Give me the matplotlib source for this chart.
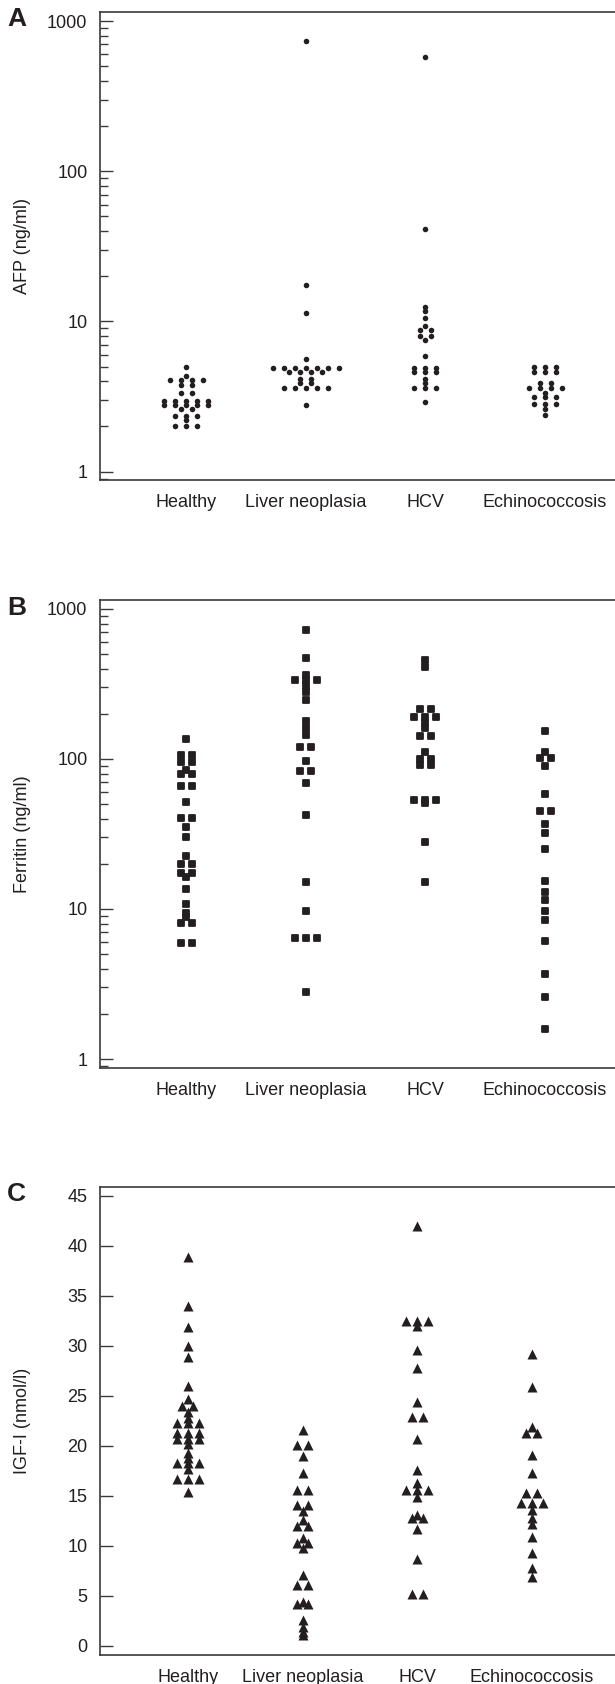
import matplotlib
matplotlib.use("Agg")
import matplotlib.pyplot as plt
import numpy as np
from matplotlib.ticker import LogLocator, NullFormatter
from matplotlib.markers import MarkerStyle

plt.rcParams['font.family'] = ['Liberation Sans', 'DejaVu Sans']

INK = '#231f20'
AXC = '#3a3a3a'

groups = ["Healthy", "Liver neoplasia", "HCV", "Echinococcosis"]

### DATA ###

# A: AFP (ng/ml)
afp_healthy = [5.0, 4.35, 4.08, 4.08, 4.08, 4.08, 3.78, 3.78, 3.33, 3.33,
               2.97, 2.97, 2.97, 2.97, 2.97, 2.78, 2.78, 2.78, 2.78, 2.78,
               2.61, 2.61, 2.36, 2.36, 2.36, 2.21, 2.0, 2.0, 2.0]
afp_liver = [740, 17.5, 11.3, 5.61, 4.89, 4.89, 4.89, 4.89, 4.89, 4.89, 4.89,
             4.6, 4.6, 4.6, 4.6, 4.13, 4.13, 3.88, 3.88,
             3.6, 3.6, 3.6, 3.6, 3.6, 2.77]
afp_hcv = [579, 41.3, 12.5, 11.7, 10.5, 9.26, 8.77, 8.77, 8.03, 8.03, 7.55,
           5.93, 4.89, 4.89, 4.89, 4.6, 4.6, 4.6, 4.13, 3.88,
           3.6, 3.6, 3.6, 2.9]
afp_echino = [4.97, 4.97, 4.97, 4.6, 4.6, 4.6, 3.9, 3.9, 3.6, 3.6, 3.6, 3.6,
              3.33, 3.13, 3.13, 3.13, 2.81, 2.81, 2.81, 2.6, 2.4]

# B: Ferritin (ng/ml)
fer_healthy = [136, 106, 106, 96, 96, 85, 80, 80, 66, 66, 51.4, 40.2, 40.2,
               35.4, 30.3, 22.5, 20, 20, 17.5, 17.5, 16.3, 13.5, 10.8, 9.45,
               8.8, 8.1, 8.1, 5.96, 5.96]
fer_liver = [724, 473, 363, 336, 336, 336, 307, 281, 247, 179, 162, 145,
             120, 120, 97.5, 83.5, 83.5, 68.9, 42.3, 15.1, 9.7,
             6.45, 6.45, 6.45, 2.8]
fer_hcv = [457, 409, 214, 214, 191, 191, 191, 173, 160, 142, 142, 112,
           99.5, 99.5, 91.2, 91.2, 53.5, 53.5, 53.5, 51, 28.1, 15.1]
fer_echino = [154, 112, 102, 102, 90, 58.2, 45.2, 45.2, 36.9, 32.3, 25,
              15.4, 13, 11.4, 9.7, 8.5, 6.15, 3.69, 2.58, 1.59]

# C: IGF-I (nmol/l)
igf_healthy = [38.9, 34.0, 31.9, 30.0, 28.9, 26.0, 24.7, 24.0, 24.0, 23.4,
               22.8, 22.3, 22.3, 22.3, 21.3, 21.3, 21.3, 20.7, 20.7, 20.7,
               20.2, 19.3, 18.8, 18.3, 18.3, 18.3, 17.7, 16.7, 16.7, 16.7, 15.4]
igf_liver = [21.6, 20.1, 20.1, 19.0, 17.3, 15.6, 15.6, 14.1, 14.1, 13.5, 12.6,
             12.0, 12.0, 10.8, 10.3, 10.3, 9.8, 7.1, 6.1, 6.1, 4.4, 4.2, 4.2,
             2.6, 1.9, 1.4, 1.1]
igf_hcv = [42.0, 32.5, 32.5, 32.5, 32.0, 29.6, 27.8, 24.4, 22.9, 22.9, 20.7,
           17.6, 16.3, 15.6, 15.6, 15.6, 14.9, 13.1, 12.8, 12.8, 11.7, 8.7,
           5.2, 5.2]
igf_echino = [29.2, 25.9, 21.9, 21.3, 21.3, 19.1, 17.3, 15.3, 15.3,
              14.3, 14.3, 14.3, 13.6, 12.8, 12.2, 10.9, 9.3, 7.8, 6.9]


def swarm(values, center, step):
    # spread equal values side by side, centred on the group
    vals = np.asarray(values, dtype=float)
    xs = np.empty(len(vals))
    for v in np.unique(vals):
        idx = np.where(vals == v)[0]
        n = len(idx)
        xs[idx] = center + (np.arange(n) - (n - 1) / 2) * step
    return xs


FIG_W, FIG_H = 615, 1684
LEFT = 100
AX_W = FIG_W - LEFT
fig = plt.figure(figsize=(FIG_W / 100, FIG_H / 100), dpi=100)


def make_axes(top_px, bottom_px):
    return fig.add_axes([LEFT / FIG_W, 1 - bottom_px / FIG_H,
                         AX_W / FIG_W, (bottom_px - top_px) / FIG_H])


def style(ax, ylabel, xlim):
    ax.set_xlim(*xlim)
    for s in ['left', 'bottom', 'top']:
        ax.spines[s].set_color(AXC)
        ax.spines[s].set_linewidth(1.2)
    ax.spines['right'].set_visible(False)
    ax.tick_params(axis='y', which='major', direction='in', length=9, width=1,
                   color=AXC, labelsize=13, labelcolor=INK, pad=9)
    ax.tick_params(axis='y', which='minor', direction='in', length=5.5, width=1,
                   color=AXC)
    ax.tick_params(axis='x', length=0, labelsize=13, labelcolor=INK, pad=10)
    ax.set_xticks(range(len(groups)))
    ax.set_xticklabels(groups)
    ax.set_ylabel(ylabel, fontsize=13, color=INK)
    ax.yaxis.set_label_coords(-(LEFT - 31) / AX_W, 0.5)


def draw(ax, data, marker, size, xlim, lw=0):
    step = 11 * (xlim[1] - xlim[0]) / AX_W
    for i, vals in enumerate(data):
        ax.scatter(swarm(vals, i, step), vals, marker=marker, s=size,
                   color=INK, edgecolors=INK, linewidths=lw,
                   zorder=3, clip_on=False)


log_ticks = [1, 10, 100, 1000]

# --- A ---
xlim_ab = (-0.719, 3.585)
axA = make_axes(12.3, 480)
axA.set_yscale('log')
draw(axA, [afp_healthy, afp_liver, afp_hcv, afp_echino], 'o', 16, xlim_ab)
axA.set_ylim(0.88, 1143)
axA.set_yticks(log_ticks)
axA.set_yticklabels([str(t) for t in log_ticks])
axA.yaxis.set_minor_locator(LogLocator(base=10, subs=range(2, 10)))
axA.yaxis.set_minor_formatter(NullFormatter())
style(axA, "AFP (ng/ml)", xlim_ab)

# --- B ---  (rounded squares)
axB = make_axes(600, 1067.7)
axB.set_yscale('log')
round_sq = MarkerStyle('s', joinstyle='round')
draw(axB, [fer_healthy, fer_liver, fer_hcv, fer_echino], round_sq, 16,
     xlim_ab, lw=1.3)
axB.set_ylim(0.875, 1148)
axB.set_yticks(log_ticks)
axB.set_yticklabels([str(t) for t in log_ticks])
axB.yaxis.set_minor_locator(LogLocator(base=10, subs=range(2, 10)))
axB.yaxis.set_minor_formatter(NullFormatter())
style(axB, "Ferritin (ng/ml)", xlim_ab)

# --- C ---
xlim_c = (-0.767, 3.724)
axC = make_axes(1186.7, 1654.7)
draw(axC, [igf_healthy, igf_liver, igf_hcv, igf_echino], '^', 52, xlim_c)
axC.set_ylim(-0.87, 45.9)
axC.set_yticks(range(0, 46, 5))
style(axC, "IGF-I (nmol/l)", xlim_c)

for letter, y_px in [("A", 19.5), ("B", 608), ("C", 1194)]:
    fig.text(7 / FIG_W, 1 - y_px / FIG_H, letter, fontsize=19,
             fontweight='bold', color=INK, ha='left', va='center')

fig.savefig("out.png", dpi=100)
